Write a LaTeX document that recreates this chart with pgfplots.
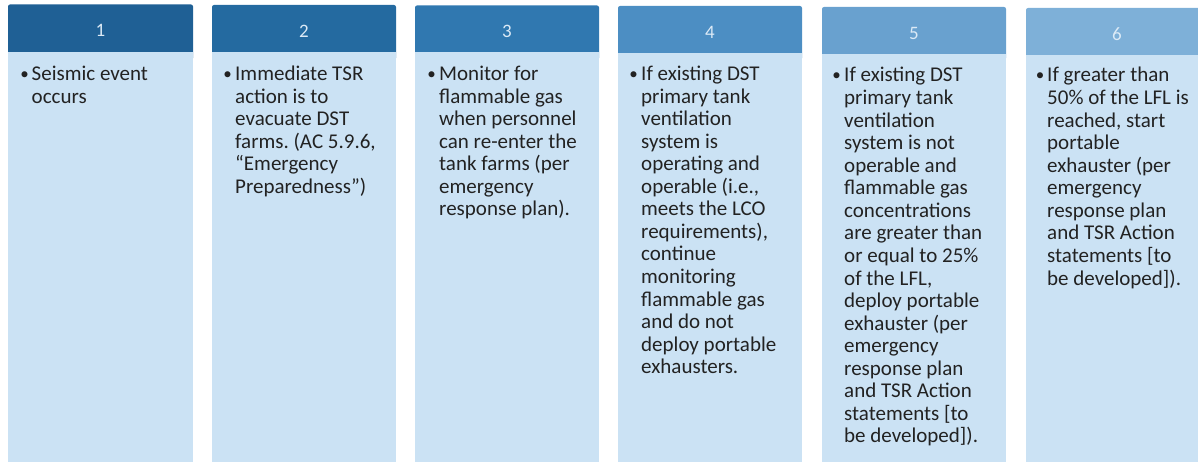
\documentclass[border=0pt]{standalone}
\usepackage{fontspec}
\setmainfont{Carlito}
\usepackage{pgfplots}
\pgfplotsset{compat=1.18}
\frenchspacing
\definecolor{hA}{HTML}{1F6095}
\definecolor{hB}{HTML}{246AA0}
\definecolor{hC}{HTML}{3078B0}
\definecolor{hD}{HTML}{4C8EC3}
\definecolor{hE}{HTML}{69A1CF}
\definecolor{hF}{HTML}{7EB0D8}
\definecolor{body}{HTML}{CBE2F4}
\definecolor{htext}{HTML}{DCEAF6}
\definecolor{btext}{HTML}{222222}
\newcommand{\coltext}[1]{\parbox[t]{180pt}{\raggedright\fontsize{21}{22.56}\selectfont #1}}
\begin{document}
\begin{tikzpicture}
\begin{axis}[at={(0,0)}, anchor=south west, width=1198pt, height=462pt, scale only axis,
  xmin=0, xmax=1198, ymin=0, ymax=462, y dir=reverse, hide axis, clip=true]
\addplot[draw=none] coordinates {(0,0) (1198,462)};
% headers
\addplot[fill=hA, draw=none, rounded corners=2pt] coordinates {(8,4.5) (193,4.5) (193,60) (8,60)} -- cycle;
\addplot[fill=hB, draw=none, rounded corners=2pt] coordinates {(212,5) (396,5) (396,60) (212,60)} -- cycle;
\addplot[fill=hC, draw=none, rounded corners=2pt] coordinates {(415,5.5) (599,5.5) (599,60) (415,60)} -- cycle;
\addplot[fill=hD, draw=none, rounded corners=2pt] coordinates {(618,6) (802,6) (802,60) (618,60)} -- cycle;
\addplot[fill=hE, draw=none, rounded corners=2pt] coordinates {(822,7) (1006,7) (1006,60) (822,60)} -- cycle;
\addplot[fill=hF, draw=none, rounded corners=2pt] coordinates {(1026,8) (1210,8) (1210,60) (1026,60)} -- cycle;
% bodies
\addplot[fill=body, draw=none] coordinates {(8,52) (193,52) (193,470) (8,470)} -- cycle;
\addplot[fill=body, draw=none] coordinates {(212,52) (396,52) (396,470) (212,470)} -- cycle;
\addplot[fill=body, draw=none] coordinates {(415,52.5) (599,52.5) (599,470) (415,470)} -- cycle;
\addplot[fill=body, draw=none] coordinates {(618,53) (802,53) (802,470) (618,470)} -- cycle;
\addplot[fill=body, draw=none] coordinates {(822,54) (1006,54) (1006,470) (822,470)} -- cycle;
\addplot[fill=body, draw=none] coordinates {(1026,55) (1210,55) (1210,470) (1026,470)} -- cycle;
% header numbers
\begin{scope}[every node/.style={font=\fontsize{19}{22}\selectfont, text=htext, inner sep=0pt}]
\node at (axis cs:100.5,30.5) {1};
\node at (axis cs:304,31) {2};
\node at (axis cs:507,31.5) {3};
\node at (axis cs:710,32) {4};
\node at (axis cs:914,33) {5};
\node at (axis cs:1117,34) {6};
\end{scope}
% bullets
\begin{scope}[every node/.style={anchor=base, inner sep=0pt, font=\fontsize{17}{20}\selectfont, text=btext}]
\node at (axis cs:24.5,79.5) {•};
\node at (axis cs:227.5,79.5) {•};
\node at (axis cs:431.5,79.5) {•};
\node at (axis cs:633.5,79.5) {•};
\node at (axis cs:836.5,81) {•};
\node at (axis cs:1040,81) {•};
\end{scope}
% texts
\begin{scope}[every node/.style={anchor=base west, inner sep=0pt, text=btext}]
\node at (axis cs:31.5,80.5) {\coltext{Seismic event\\occurs}};
\node at (axis cs:235,80.5) {\coltext{Immediate TSR\\action is to\\evacuate DST\\farms. (AC 5.9.6,\\“Emergency\\Preparedness”)}};
\node at (axis cs:439,80.5) {\coltext{Monitor for\\flammable gas\\when personnel\\can re-enter the\\tank farms (per\\emergency\\response plan).}};
\node at (axis cs:641,80.5) {\coltext{If existing DST\\primary tank\\ventilation\\system is\\operating and\\operable (i.e.,\\meets the LCO\\requirements),\\continue\\monitoring\\flammable gas\\and do not\\deploy portable\\exhausters.}};
\node at (axis cs:844,82) {\coltext{If existing DST\\primary tank\\ventilation\\system is not\\operable and\\flammable gas\\concentrations\\are greater than\\or equal to 25\%\\of the LFL,\\deploy portable\\exhauster (per\\emergency\\response plan\\and TSR Action\\statements [to\\be developed]).}};
\node at (axis cs:1047,82) {\coltext{If greater than\\50\% of the LFL is\\reached, start\\portable\\exhauster (per\\emergency\\response plan\\and TSR Action\\statements [to\\be developed]).}};
\end{scope}
\end{axis}
\end{tikzpicture}
\end{document}
